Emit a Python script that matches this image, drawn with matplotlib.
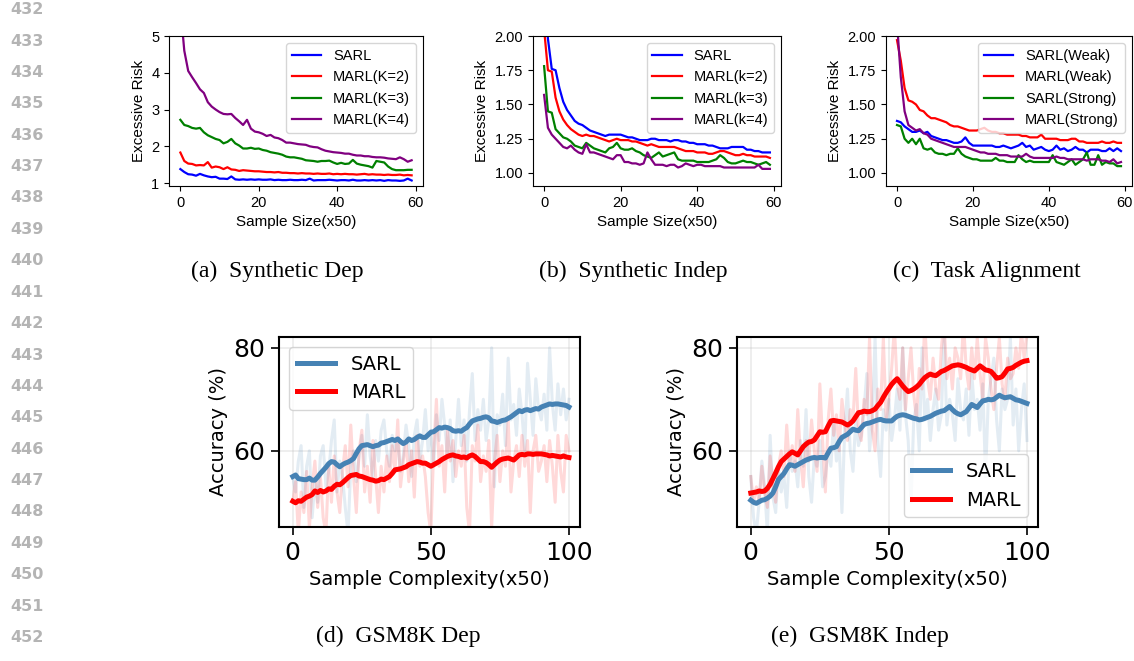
"""Excessive risk / GSM8K accuracy panels (page crop with line numbers)
"""
import matplotlib
matplotlib.use('Agg')
import matplotlib.pyplot as plt
import numpy as np

W, H = 1134, 661

# ---------------- top row: excessive risk, x = 0..59 ----------------
steps_top = np.arange(60)

dep_sarl = [1.38, 1.30, 1.24, 1.23, 1.20, 1.25, 1.21, 1.18, 1.16, 1.17,
            1.12, 1.12, 1.11, 1.18, 1.10, 1.09, 1.10, 1.09, 1.10, 1.09,
            1.10, 1.09, 1.09, 1.10, 1.08, 1.09, 1.08, 1.08, 1.09, 1.08,
            1.08, 1.09, 1.08, 1.12, 1.07, 1.08, 1.08, 1.08, 1.09, 1.08,
            1.07, 1.08, 1.08, 1.07, 1.09, 1.07, 1.07, 1.08, 1.07, 1.08,
            1.07, 1.08, 1.06, 1.08, 1.07, 1.07, 1.06, 1.07, 1.12, 1.07]
dep_k2 = [1.83, 1.60, 1.53, 1.52, 1.48, 1.49, 1.48, 1.57, 1.42, 1.45,
          1.43, 1.38, 1.43, 1.37, 1.36, 1.33, 1.35, 1.34, 1.33, 1.32,
          1.32, 1.31, 1.30, 1.30, 1.29, 1.30, 1.28, 1.28, 1.27, 1.27,
          1.26, 1.27, 1.26, 1.26, 1.25, 1.26, 1.25, 1.25, 1.26, 1.24,
          1.25, 1.24, 1.25, 1.24, 1.24, 1.23, 1.24, 1.25, 1.23, 1.24,
          1.23, 1.23, 1.22, 1.23, 1.22, 1.22, 1.23, 1.21, 1.22, 1.21]
dep_k3 = [2.72, 2.58, 2.55, 2.50, 2.48, 2.50, 2.38, 2.30, 2.25, 2.20,
          2.17, 2.08, 2.12, 2.20, 2.08, 2.02, 1.94, 1.94, 1.96, 1.93,
          1.94, 1.90, 1.88, 1.84, 1.82, 1.80, 1.77, 1.72, 1.70, 1.70,
          1.68, 1.66, 1.62, 1.61, 1.60, 1.58, 1.60, 1.60, 1.61, 1.56,
          1.52, 1.55, 1.52, 1.53, 1.63, 1.53, 1.50, 1.48, 1.46, 1.42,
          1.60, 1.58, 1.56, 1.45, 1.38, 1.35, 1.35, 1.35, 1.36, 1.36]
dep_k4 = [5.80, 4.60, 4.05, 3.88, 3.72, 3.55, 3.45, 3.20, 3.08, 3.00,
          2.93, 2.88, 2.87, 2.88, 2.77, 2.68, 2.58, 2.72, 2.48, 2.40,
          2.38, 2.34, 2.28, 2.31, 2.24, 2.22, 2.17, 2.10, 2.10, 2.08,
          2.06, 2.05, 2.04, 2.00, 1.98, 1.97, 1.92, 1.88, 1.86, 1.84,
          1.83, 1.82, 1.80, 1.80, 1.77, 1.75, 1.75, 1.73, 1.73, 1.71,
          1.70, 1.70, 1.69, 1.67, 1.66, 1.65, 1.70, 1.65, 1.58, 1.62]

ind_sarl = [2.40, 1.98, 1.76, 1.75, 1.62, 1.52, 1.46, 1.42, 1.38, 1.36,
            1.35, 1.33, 1.31, 1.30, 1.29, 1.28, 1.27, 1.28, 1.28, 1.28,
            1.28, 1.27, 1.26, 1.26, 1.25, 1.24, 1.24, 1.24, 1.25, 1.25,
            1.24, 1.24, 1.24, 1.23, 1.24, 1.24, 1.23, 1.23, 1.22, 1.22,
            1.21, 1.21, 1.21, 1.20, 1.20, 1.19, 1.18, 1.18, 1.18, 1.19,
            1.19, 1.19, 1.19, 1.17, 1.17, 1.16, 1.16, 1.15, 1.15, 1.15]
ind_k2 = [2.05, 1.75, 1.74, 1.55, 1.45, 1.39, 1.35, 1.32, 1.30, 1.28,
          1.27, 1.28, 1.27, 1.27, 1.26, 1.25, 1.24, 1.23, 1.24, 1.25,
          1.24, 1.24, 1.24, 1.23, 1.23, 1.22, 1.21, 1.20, 1.21, 1.20,
          1.19, 1.19, 1.19, 1.19, 1.19, 1.18, 1.17, 1.16, 1.16, 1.16,
          1.15, 1.15, 1.15, 1.14, 1.14, 1.15, 1.16, 1.16, 1.15, 1.14,
          1.13, 1.13, 1.14, 1.13, 1.13, 1.12, 1.12, 1.12, 1.12, 1.11]
ind_k3 = [1.78, 1.45, 1.44, 1.32, 1.29, 1.26, 1.25, 1.23, 1.20, 1.19,
          1.18, 1.22, 1.20, 1.18, 1.17, 1.16, 1.15, 1.18, 1.19, 1.22,
          1.18, 1.17, 1.17, 1.18, 1.16, 1.15, 1.13, 1.12, 1.11, 1.13,
          1.15, 1.12, 1.13, 1.14, 1.15, 1.10, 1.09, 1.09, 1.09, 1.09,
          1.08, 1.08, 1.08, 1.08, 1.09, 1.10, 1.13, 1.11, 1.08, 1.07,
          1.07, 1.08, 1.09, 1.08, 1.08, 1.07, 1.06, 1.07, 1.08, 1.06]
ind_k4 = [1.57, 1.33, 1.28, 1.25, 1.22, 1.19, 1.18, 1.20, 1.17, 1.15,
          1.14, 1.21, 1.15, 1.15, 1.14, 1.13, 1.12, 1.11, 1.10, 1.13,
          1.13, 1.08, 1.08, 1.07, 1.07, 1.06, 1.07, 1.15, 1.10, 1.06,
          1.06, 1.06, 1.05, 1.06, 1.06, 1.04, 1.05, 1.07, 1.06, 1.05,
          1.06, 1.06, 1.05, 1.05, 1.05, 1.05, 1.05, 1.04, 1.04, 1.04,
          1.04, 1.04, 1.04, 1.04, 1.04, 1.04, 1.06, 1.03, 1.03, 1.03]

ta_sarl_weak = [1.38, 1.37, 1.34, 1.32, 1.30, 1.30, 1.31, 1.29, 1.30, 1.27,
                1.26, 1.25, 1.24, 1.24, 1.23, 1.22, 1.22, 1.23, 1.26, 1.22,
                1.20, 1.20, 1.20, 1.20, 1.20, 1.20, 1.19, 1.19, 1.20, 1.19,
                1.18, 1.19, 1.20, 1.22, 1.19, 1.20, 1.17, 1.18, 1.19, 1.17,
                1.16, 1.17, 1.20, 1.17, 1.18, 1.16, 1.17, 1.19, 1.17, 1.17,
                1.15, 1.17, 1.17, 1.17, 1.16, 1.16, 1.18, 1.16, 1.18, 1.16]
ta_marl_weak = [1.97, 1.82, 1.62, 1.53, 1.52, 1.50, 1.46, 1.45, 1.42, 1.40,
                1.40, 1.39, 1.38, 1.37, 1.35, 1.34, 1.34, 1.33, 1.32, 1.31,
                1.31, 1.31, 1.32, 1.33, 1.31, 1.30, 1.30, 1.29, 1.29, 1.28,
                1.28, 1.28, 1.28, 1.27, 1.27, 1.26, 1.26, 1.26, 1.28, 1.25,
                1.25, 1.25, 1.25, 1.24, 1.24, 1.24, 1.25, 1.25, 1.23, 1.23,
                1.22, 1.22, 1.22, 1.22, 1.23, 1.22, 1.22, 1.23, 1.22, 1.22]
ta_sarl_strong = [1.35, 1.34, 1.25, 1.22, 1.25, 1.21, 1.25, 1.18, 1.17, 1.18,
                  1.15, 1.14, 1.14, 1.13, 1.14, 1.14, 1.18, 1.14, 1.12, 1.11,
                  1.10, 1.10, 1.09, 1.09, 1.09, 1.09, 1.11, 1.09, 1.09, 1.08,
                  1.08, 1.08, 1.13, 1.10, 1.08, 1.09, 1.08, 1.08, 1.08, 1.08,
                  1.08, 1.13, 1.08, 1.07, 1.06, 1.08, 1.10, 1.06, 1.08, 1.10,
                  1.15, 1.06, 1.06, 1.13, 1.06, 1.08, 1.07, 1.07, 1.05, 1.05]
ta_marl_strong = [2.10, 1.70, 1.45, 1.35, 1.33, 1.31, 1.32, 1.29, 1.28, 1.25,
                  1.24, 1.23, 1.22, 1.21, 1.20, 1.19, 1.19, 1.19, 1.19, 1.18,
                  1.17, 1.16, 1.15, 1.15, 1.14, 1.14, 1.14, 1.13, 1.13, 1.13,
                  1.12, 1.12, 1.12, 1.12, 1.14, 1.12, 1.11, 1.11, 1.11, 1.11,
                  1.11, 1.11, 1.12, 1.11, 1.11, 1.10, 1.10, 1.10, 1.10, 1.10,
                  1.09, 1.10, 1.10, 1.10, 1.09, 1.09, 1.08, 1.10, 1.07, 1.08]

# ---------------- bottom row: GSM8K accuracy, x = 0..100 ----------------
steps_bot = np.arange(101)

gdep_sarl_raw = [55, 52, 58, 61, 49, 57, 60, 47, 54, 50,
                 59, 61, 53, 56, 62, 66, 52, 58, 55, 49,
                 44, 57, 60, 54, 59, 63, 57, 67, 59, 55,
                 62, 58, 64, 66, 60, 57, 63, 60, 62, 56,
                 59, 65, 61, 55, 63, 66, 58, 62, 68, 60,
                 64, 57, 67, 62, 70, 65, 59, 66, 54, 62,
                 70, 61, 66, 58, 68, 75, 62, 68, 64, 70,
                 62, 66, 80, 53, 67, 65, 71, 61, 78, 66,
                 69, 63, 72, 67, 60, 77, 70, 63, 74, 68,
                 66, 71, 64, 80, 69, 64, 73, 67, 72, 66, 70]
gdep_marl_raw = [50, 54, 44, 52, 48, 56, 45, 53, 58, 49,
                 55, 47, 44, 57, 50, 59, 52, 48, 56, 61,
                 53, 65, 55, 48, 60, 64, 52, 57, 50, 62,
                 55, 48, 57, 52, 59, 54, 61, 56, 66, 53,
                 58, 62, 54, 60, 51, 63, 57, 59, 55, 48,
                 44, 60, 70, 57, 61, 52, 64, 58, 62, 55,
                 60, 57, 63, 49, 44, 61, 58, 65, 54, 59,
                 56, 62, 45, 58, 63, 54, 60, 57, 66, 52,
                 58, 61, 55, 63, 57, 62, 48, 60, 63, 56,
                 58, 61, 54, 62, 57, 50, 63, 56, 52, 63, 60]
gdep_sarl = [55.0, 55.3, 54.6, 54.5, 54.4, 54.4, 54.7, 54.3, 54.3, 54.9,
             55.6, 56.2, 56.8, 57.5, 57.9, 57.8, 57.3, 56.9, 57.3, 57.6,
             57.8, 58.1, 58.5, 59.5, 60.4, 61.0, 61.1, 61.2, 61.0, 60.8,
             61.0, 61.1, 61.5, 61.6, 61.8, 62.0, 62.2, 62.0, 62.3, 61.8,
             61.4, 61.7, 62.3, 62.0, 62.2, 62.6, 62.9, 62.6, 62.6, 63.1,
             63.6, 63.7, 64.1, 64.5, 64.4, 64.6, 64.5, 64.3, 63.9, 63.8,
             63.9, 63.8, 64.2, 64.5, 65.2, 65.8, 66.0, 66.2, 66.3, 66.5,
             66.6, 66.4, 65.8, 65.7, 65.5, 65.7, 65.9, 66.0, 66.3, 66.6,
             67.0, 67.4, 67.8, 67.6, 67.9, 68.0, 67.8, 68.0, 68.2, 68.1,
             68.5, 68.7, 68.9, 69.1, 69.0, 69.1, 69.1, 69.0, 68.9, 68.8, 68.5]
gdep_marl = [50.2, 49.9, 50.3, 50.2, 50.6, 51.0, 51.2, 51.5, 52.2, 51.9,
             52.3, 52.0, 52.2, 52.6, 52.5, 53.1, 53.5, 53.4, 53.8, 54.3,
             54.8, 55.2, 55.3, 55.4, 55.1, 55.0, 54.8, 54.6, 54.4, 54.3,
             54.1, 54.2, 54.5, 54.4, 54.7, 55.0, 55.6, 56.3, 56.4, 56.5,
             56.7, 56.9, 57.3, 57.5, 57.7, 57.9, 57.8, 57.6, 57.6, 57.3,
             57.0, 57.3, 57.6, 57.9, 58.3, 58.6, 58.9, 59.1, 59.2, 59.0,
             58.9, 58.7, 58.8, 58.6, 59.0, 59.2, 58.9, 58.4, 57.9, 57.9,
             57.7, 57.3, 56.8, 57.3, 57.8, 58.2, 58.4, 58.5, 58.6, 58.4,
             58.2, 58.7, 59.2, 59.3, 59.2, 59.4, 59.4, 59.3, 59.4, 59.4,
             59.4, 59.3, 59.2, 59.0, 59.1, 59.0, 58.9, 58.8, 59.0, 58.8, 58.7]

gind_sarl_raw = [55, 47, 44, 50, 58, 53, 44, 63, 51, 48,
                 57, 52, 55, 49, 60, 56, 58, 53, 62, 57,
                 68, 55, 50, 59, 57, 62, 53, 55, 60, 57,
                 66, 58, 61, 48, 64, 72, 60, 56, 66, 61,
                 63, 68, 75, 60, 66, 82, 62, 55, 68, 64,
                 70, 62, 66, 72, 64, 80, 67, 62, 50, 66,
                 69, 60, 80, 66, 70, 62, 68, 72, 64, 67,
                 82, 65, 70, 67, 62, 74, 68, 66, 72, 63,
                 75, 68, 70, 64, 73, 55, 70, 74, 78, 66,
                 60, 72, 68, 70, 82, 65, 72, 60, 68, 73, 62]
gind_marl_raw = [55, 50, 53, 50, 57, 52, 49, 59, 54, 50,
                 57, 60, 55, 65, 57, 61, 56, 68, 59, 53,
                 62, 58, 66, 60, 56, 73, 62, 52, 66, 72,
                 63, 67, 60, 70, 65, 62, 68, 66, 76, 64,
                 62, 70, 67, 82, 64, 60, 72, 68, 82, 66,
                 70, 76, 84, 73, 70, 80, 68, 74, 80, 71,
                 66, 76, 72, 85, 74, 70, 78, 72, 70, 80,
                 85, 74, 78, 72, 80, 78, 74, 85, 76, 72,
                 80, 74, 82, 75, 70, 82, 78, 72, 68, 76,
                 82, 73, 70, 78, 74, 75, 80, 76, 83, 78, 83]
gind_sarl = [50.4, 50.0, 49.8, 50.1, 50.4, 50.5, 50.8, 51.2, 51.8, 53.0,
             54.4, 55.0, 55.6, 56.5, 57.3, 57.2, 57.0, 57.3, 57.6, 57.9,
             58.2, 58.4, 58.6, 58.7, 58.6, 58.7, 58.7, 58.6, 59.6, 60.5,
             60.6, 60.8, 61.8, 62.6, 62.9, 63.2, 63.7, 64.2, 64.0, 63.9,
             64.5, 65.1, 65.3, 65.4, 65.6, 65.8, 66.0, 66.1, 65.9, 65.8,
             65.8, 65.8, 66.3, 66.7, 66.9, 67.0, 66.9, 66.7, 66.5, 66.3,
             66.2, 66.0, 66.1, 66.3, 66.5, 66.7, 67.0, 67.3, 67.5, 67.7,
             67.8, 68.2, 68.6, 68.0, 67.5, 67.2, 67.0, 67.3, 67.6, 68.3,
             69.0, 68.7, 68.4, 69.1, 69.7, 69.8, 70.0, 69.9, 70.0, 70.4,
             70.8, 70.5, 70.3, 70.4, 70.5, 70.2, 69.9, 69.8, 69.6, 69.4, 69.2]
gind_marl = [51.8, 51.9, 52.0, 52.2, 52.1, 52.2, 52.7, 53.5, 54.6, 55.7,
             56.9, 57.9, 58.4, 58.9, 59.4, 59.8, 59.5, 59.2, 60.0, 60.8,
             61.3, 61.7, 61.8, 62.1, 62.9, 63.7, 63.6, 63.7, 64.8, 65.8,
             65.9, 65.8, 65.7, 65.6, 65.3, 65.0, 65.3, 65.8, 66.6, 67.4,
             67.5, 67.7, 67.6, 67.6, 67.8, 68.1, 68.8, 69.4, 70.4, 71.3,
             72.1, 72.9, 73.5, 74.0, 73.3, 72.6, 72.0, 71.5, 71.7, 72.0,
             72.4, 72.9, 73.6, 74.2, 74.6, 74.9, 74.7, 74.6, 75.0, 75.4,
             75.6, 75.9, 76.2, 76.5, 76.6, 76.7, 76.6, 76.4, 76.2, 75.9,
             75.7, 75.5, 76.0, 76.5, 76.1, 75.7, 75.6, 75.4, 74.8, 74.1,
             74.2, 74.4, 75.1, 75.9, 76.0, 76.2, 76.6, 76.9, 77.2, 77.4, 77.5]

line_numbers = list(range(432, 453))
captions = ['(a)  Synthetic Dep', '(b)  Synthetic Indep', '(c)  Task Alignment',
            '(d)  GSM8K Dep', '(e)  GSM8K Indep']


def px_box(left, top, right, bottom):
    return [left / W, 1 - bottom / H, (right - left) / W, (bottom - top) / H]


def risk_panel(fig, rect, series, labels, ylim, yticks):
    ax = fig.add_axes(rect)
    for vals, lab, col in zip(series, labels, ['blue', 'red', 'green', 'purple']):
        ax.plot(steps_top, vals, color=col, lw=1.6, label=lab)
    ax.set_ylim(*ylim)
    ax.set_xlim(-2.9, 61.9)
    ax.set_yticks(yticks)
    ax.set_xticks([0, 20, 40, 60])
    ax.set_xlabel('Sample Size(x50)', fontsize=11, family='Liberation Sans')
    ax.set_ylabel('Excessive Risk', fontsize=11, family='Liberation Sans')
    for t in ax.get_xticklabels() + ax.get_yticklabels():
        t.set_family('Liberation Sans')
        t.set_fontsize(10.5)
    ax.legend(loc='upper right', prop={'family': 'Liberation Sans', 'size': 10.5})
    return ax


def gsm_panel(fig, rect, sarl_raw, marl_raw, sarl, marl, loc):
    ax = fig.add_axes(rect)
    ax.grid(True, color='#b0b0b0', alpha=0.25, lw=1.2)
    ax.plot(steps_bot, sarl_raw, color='steelblue', lw=2.2, alpha=0.15)
    ax.plot(steps_bot, marl_raw, color='red', lw=2.2, alpha=0.15)
    ax.plot(steps_bot, sarl, color='steelblue', lw=3.6, label='SARL')
    ax.plot(steps_bot, marl, color='red', lw=3.6, label='MARL')
    ax.set_ylim(45.2, 82.1)
    ax.set_xlim(-5, 104)
    ax.set_yticks([60, 80])
    ax.set_xticks([0, 50, 100])
    ax.tick_params(labelsize=18, length=5.5, width=1.2, pad=4.5)
    for s in ax.spines.values():
        s.set_linewidth(1.5)
    ax.set_xlabel('Sample Complexity(x50)', fontsize=14)
    ax.set_ylabel('Accuracy (%)', fontsize=14)
    ax.legend(loc=loc, fontsize=14)
    return ax


fig = plt.figure(figsize=(W / 100, H / 100), dpi=100)

risk_panel(fig, px_box(169, 36, 423, 186),
           [dep_sarl, dep_k2, dep_k3, dep_k4],
           ['SARL', 'MARL(K=2)', 'MARL(K=3)', 'MARL(K=4)'],
           (0.92, 5.0), [1, 2, 3, 4, 5])
risk_panel(fig, px_box(533, 36, 781, 186),
           [ind_sarl, ind_k2, ind_k3, ind_k4],
           ['SARL', 'MARL(k=2)', 'MARL(k=3)', 'MARL(k=4)'],
           (0.905, 2.0), [1.0, 1.25, 1.5, 1.75, 2.0])
risk_panel(fig, px_box(886, 36, 1132, 186),
           [ta_sarl_weak, ta_marl_weak, ta_sarl_strong, ta_marl_strong],
           ['SARL(Weak)', 'MARL(Weak)', 'SARL(Strong)', 'MARL(Strong)'],
           (0.905, 2.0), [1.0, 1.25, 1.5, 1.75, 2.0])

gsm_panel(fig, px_box(279, 337, 580, 527),
          gdep_sarl_raw, gdep_marl_raw, gdep_sarl, gdep_marl, 'upper left')
gsm_panel(fig, px_box(737, 337, 1038, 527),
          gind_sarl_raw, gind_marl_raw, gind_sarl, gind_marl, 'lower right')

# captions
cap_pos = [(277, 271), (633, 271), (987, 271), (398, 636), (860, 636)]
for txt, (cx, cy) in zip(captions, cap_pos):
    fig.text(cx / W, 1 - cy / H, txt, ha='center', va='center',
             family='Liberation Serif', fontsize=17)

# margin line numbers
for i, n in enumerate(line_numbers):
    fig.text(10 / W, 1 - (9.6 + i * 31.4) / H, str(n), ha='left', va='center',
             fontsize=11.5, fontweight='bold', color='#b4b4b4')

fig.savefig('out.png', dpi=100)
